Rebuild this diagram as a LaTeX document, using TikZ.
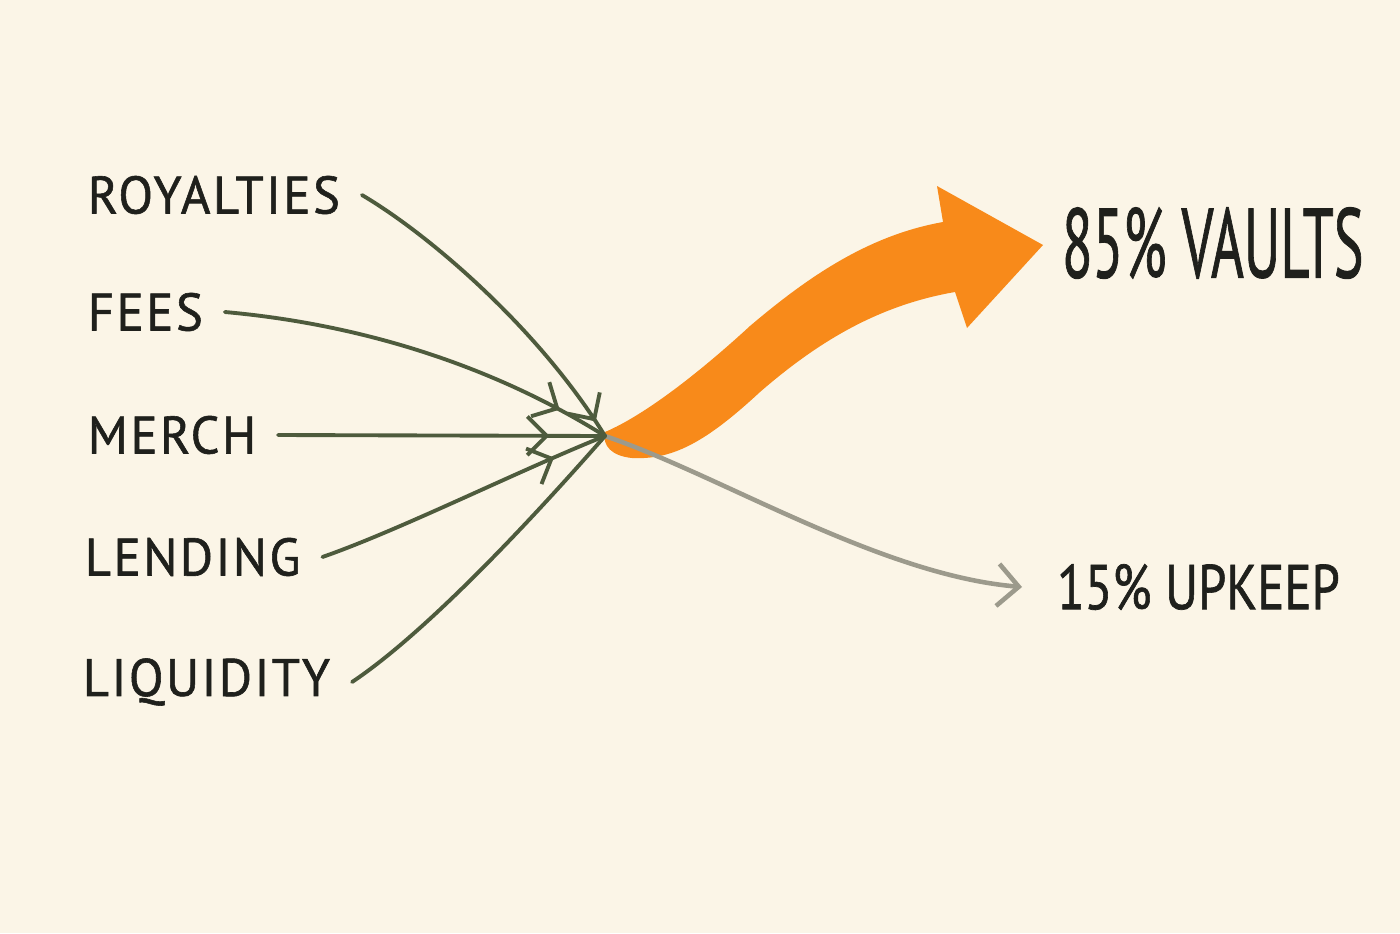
\documentclass[tikz,border=0pt]{standalone}
\usepackage{fontspec}
\setmainfont{PT Sans}
\newfontfamily\hand[FakeBold=1.1]{PT Sans}
\usetikzlibrary{arrows.meta}
\usetikzlibrary{decorations.markings}
\definecolor{paper}{HTML}{FBF5E7}
\definecolor{feedgreen}{HTML}{4E5B3D}
\definecolor{upkeepgrey}{HTML}{9C9A8C}
\definecolor{vaultorange}{HTML}{F88A1A}
\definecolor{ink}{HTML}{1F201C}
\tikzset{
  src/.style={anchor=west, text=ink, font=\fontsize{15}{18}\hand\addfontfeature{LetterSpace=5}, xscale=.96, transform shape, inner sep=1pt, outer sep=5.5pt},
  sink/.style={anchor=west, text=ink, inner sep=1pt, outer sep=8pt},
  feed/.style={draw=feedgreen, line width=1.1pt, line cap=round},
  barb/.style={decoration={markings, mark=at position #1 with {\arrow{Straight Barb[length=5.5pt,width=11pt]}}}, postaction=decorate},
}

\begin{document}
\begin{tikzpicture}[x=0.01cm,y=-0.01cm]
			\fill[paper] (0,0) rectangle (1400,933);
			\useasboundingbox (0,0) rectangle (1400,933);
			\node[src] (A) at (66,195){ROYALTIES};
			\node[src] (B) at (66,312){FEES};
			\node[src] (C) at (66,435){MERCH};
			\node[src] (D) at (63,557){LENDING};
			\node[src] (E) at (61,682){LIQUIDITY};
			\node[sink, font=\fontsize{28}{32}\hand, xscale=.57, transform shape] (V) at (1044,243){85\% VAULTS};
			\node[sink, font=\fontsize{18}{22}\hand, xscale=.8, transform shape, outer sep=11.5pt] (U) at (1022,587){15\% UPKEEP};
			\coordinate (H) at (605,436);
			\fill[vaultorange] (605,432) .. controls (645,415) and (700,372) .. (750,326)
				.. controls (810,275) and (870,235) .. (943,222) -- (937,186) -- (1043,245) -- (967,328) -- (955,292)
				.. controls (880,305) and (820,340) .. (760,392) .. controls (705,443) and (672,460) .. (632,458)
				.. controls (612,456) and (602,446) .. cycle;
			\draw[upkeepgrey, line width=1.3pt, line cap=round, -{Straight Barb[length=6pt,width=12pt]}] (H) .. controls (720,475) and (880,575) .. (U.west);
			\draw[feed, barb=.95] (A.east) .. controls (430,235) and (540,330) .. (H);
			\draw[feed, barb=.87] (B.east) .. controls (370,325) and (500,370) .. (H);
			\draw[feed, barb=.83] (C.east) -- (H);
			\draw[feed, barb=.82] (D.east) .. controls (400,530) and (520,470) .. (H);
			\draw[feed] (E.east) .. controls (430,630) and (540,510) .. (H);
		\end{tikzpicture}
\end{document}
